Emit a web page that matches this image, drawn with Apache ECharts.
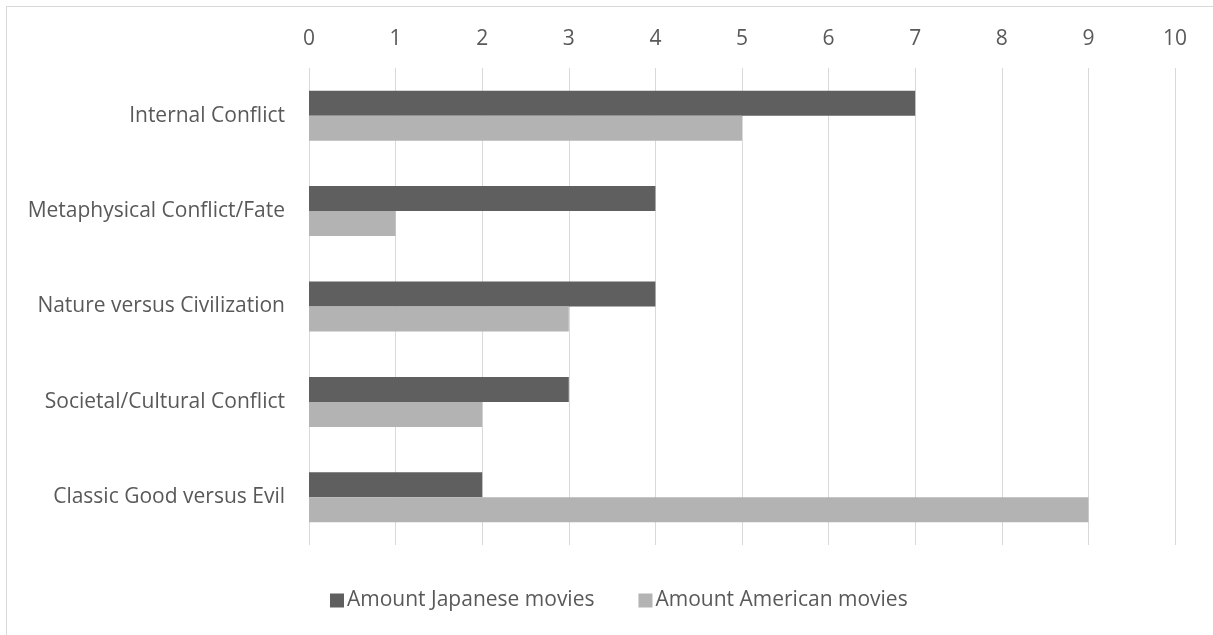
<!DOCTYPE html>
<html>
<head>
<meta charset="utf-8">
<script src="https://cdn.jsdelivr.net/npm/echarts@6/dist/echarts.min.js"></script>
<style>
  html, body { margin: 0; padding: 0; background: #fff; }
  #frame { position: absolute; left: 6px; top: 6px; width: 1220px; height: 640px; border: 1px solid #d9d9d9; box-sizing: border-box; }
  #chart { width: 1213px; height: 635px; }
</style>
</head>
<body>
<div id="frame"></div>
<div id="chart"></div>
<script>
const categories = [
  'Internal Conflict',
  'Metaphysical Conflict/Fate',
  'Nature versus Civilization',
  'Societal/Cultural Conflict',
  'Classic Good versus Evil'
];
const japanese = [7, 4, 4, 3, 2];
const american = [5, 1, 3, 2, 9];
const seriesNames = ['Amount Japanese movies', 'Amount American movies'];

const chart = echarts.init(document.getElementById('chart'), null, { renderer: 'canvas' });
const font = '"Open Sans", sans-serif';

chart.setOption({
  animation: false,
  textStyle: { fontFamily: font },
  grid: { left: 309, right: 38, top: 68, bottom: 90, containLabel: false },
  legend: {
    bottom: 19,
    left: 325,
    itemWidth: 14,
    itemHeight: 14,
    itemGap: 44,
    icon: 'rect',
    textStyle: { fontSize: 21, color: '#595959', fontFamily: font, padding: [0, 0, 0, -2] },
    data: seriesNames
  },
  xAxis: {
    type: 'value',
    position: 'top',
    min: 0,
    max: 10,
    interval: 1,
    axisLine: { show: false },
    axisTick: { show: false },
    axisLabel: { fontSize: 21, color: '#595959', margin: 18 },
    splitLine: { lineStyle: { color: '#d9d9d9', width: 1 } }
  },
  yAxis: {
    type: 'category',
    inverse: true,
    data: categories,
    axisLine: { show: false },
    axisTick: { show: false },
    axisLabel: { fontSize: 21, color: '#595959', margin: 24, padding: [4, 0, 0, 0] }
  },
  series: [
    {
      name: seriesNames[0],
      type: 'bar',
      data: japanese,
      barWidth: 25,
      barGap: '0%',
      itemStyle: { color: '#5f5f5f' }
    },
    {
      name: seriesNames[1],
      type: 'bar',
      data: american,
      barWidth: 25,
      barGap: '0%',
      itemStyle: { color: '#b3b3b3' }
    }
  ]
});
</script>
</body>
</html>
